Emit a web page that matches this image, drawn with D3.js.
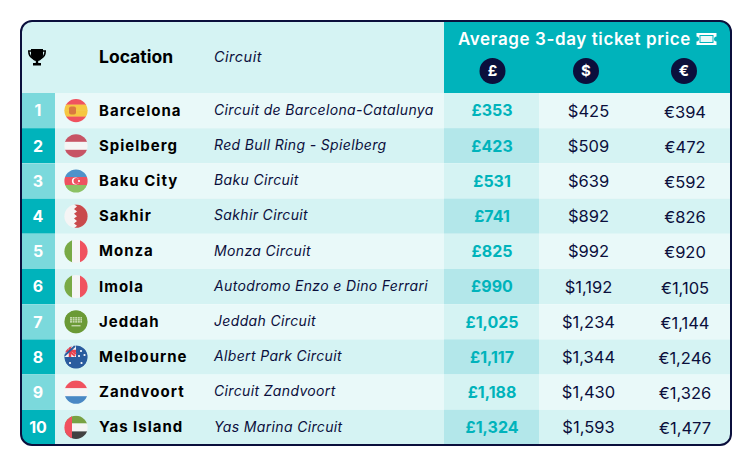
<!DOCTYPE html>
<html lang="en">
  <head>
    <meta charset="utf-8">
    <title>Average 3-day ticket price</title>
    <style type="text/css">
      html, body { margin: 0; padding: 0; background: #fff; }
      svg { display: block; }
      text { font-family: Inter, "Noto Sans", sans-serif; }
    </style>
  </head>
  <body>
    <script src="https://d3js.org/d3.v7.min.js"></script>
    <script type="text/javascript">
    // ===================================
    // DATA
    // ===================================
      var ranks = [1, 2, 3, 4, 5, 6, 7, 8, 9, 10];
      var locations = ["Barcelona", "Spielberg", "Baku City", "Sakhir", "Monza", "Imola", "Jeddah", "Melbourne", "Zandvoort", "Yas Island"];
      var circuits = [
        "Circuit de Barcelona-Catalunya",
        "Red Bull Ring - Spielberg",
        "Baku Circuit",
        "Sakhir Circuit",
        "Monza Circuit",
        "Autodromo Enzo e Dino Ferrari",
        "Jeddah Circuit",
        "Albert Park Circuit",
        "Circuit Zandvoort",
        "Yas Marina Circuit"
      ];
      var flags = ["spain", "austria", "azerbaijan", "bahrain", "italy", "italy", "saudi", "australia", "netherlands", "uae"];
      var pounds = [353, 423, 531, 741, 825, 990, 1025, 1117, 1188, 1324];
      var dollars = [425, 509, 639, 892, 992, 1192, 1234, 1344, 1430, 1593];
      var euros = [394, 472, 592, 826, 920, 1105, 1144, 1246, 1326, 1477];
      var currencies = ["£", "$", "€"];

    // ===================================
    // SETUP
    // ===================================
      var w = 750, h = 466;
      var navy = "#0b0f3c", teal = "#00b3bb", pale = "#d5f3f3", lighter = "#e9f9f9";
      var panelLeft = 21, panelRight = 731, panelTop = 21, panelBottom = 445, headBottom = 93;
      var rankRight = 55, poundLeft = 444, poundRight = 539;

      var svg = d3.select("body").append("svg")
        .attr("width", w)
        .attr("height", h)
        .attr("viewBox", "0 0 " + w + " " + h);

      var y = d3.scaleBand().domain(ranks).range([headBottom, panelBottom]);
      var priceX = d3.scalePoint().domain(currencies).range([492, 685]);
      var badgeX = d3.scaleOrdinal().domain(currencies).range([492.5, 586, 684]);
      var fmt = d3.format(",");

      var defs = svg.append("defs");
      defs.append("clipPath").attr("id", "panel")
        .append("rect")
        .attr("x", panelLeft).attr("y", panelTop)
        .attr("width", panelRight - panelLeft).attr("height", panelBottom - panelTop)
        .attr("rx", 11);
      defs.append("clipPath").attr("id", "disc")
        .append("circle").attr("r", 11.6);

      var panel = svg.append("g").attr("clip-path", "url(#panel)");

    // ===================================
    // BACKGROUNDS
    // ===================================
      panel.append("rect")
        .attr("x", panelLeft).attr("y", panelTop)
        .attr("width", panelRight - panelLeft).attr("height", headBottom - panelTop)
        .attr("fill", pale);
      panel.append("rect")
        .attr("x", poundLeft).attr("y", panelTop)
        .attr("width", panelRight - poundLeft).attr("height", headBottom - panelTop)
        .attr("fill", teal);

      var rows = panel.selectAll("g.row")
        .data(ranks)
        .enter()
        .append("g")
        .attr("class", "row")
        .attr("transform", function(d) { return "translate(0," + y(d) + ")"; });

      rows.append("rect")
        .attr("x", panelLeft).attr("width", panelRight - panelLeft).attr("height", y.bandwidth())
        .attr("fill", function(d, i) { return i % 2 ? pale : lighter; });
      rows.append("rect")
        .attr("x", panelLeft).attr("width", rankRight - panelLeft).attr("height", y.bandwidth())
        .attr("fill", function(d, i) { return i % 2 ? teal : "#7bd9dc"; });
      rows.append("rect")
        .attr("x", poundLeft).attr("width", poundRight - poundLeft).attr("height", y.bandwidth())
        .attr("fill", function(d, i) { return i % 2 ? "#b3e7ea" : pale; });

    // ===================================
    // ROW TEXT
    // ===================================
      var mid = y.bandwidth() / 2;

      rows.append("text")
        .attr("x", 38).attr("y", mid).attr("dy", "0.36em")
        .attr("text-anchor", "middle")
        .attr("font-size", 16).attr("font-weight", 700).attr("fill", "#fff")
        .text(function(d) { return d; });

      rows.append("text")
        .attr("x", 99).attr("y", mid - 0.5).attr("dy", "0.36em")
        .attr("font-size", 15).attr("font-weight", 700).attr("fill", "#000")
        .attr("letter-spacing", 1)
        .text(function(d, i) { return locations[i]; });

      rows.append("text")
        .attr("x", 214).attr("y", mid - 0.8).attr("dy", "0.36em")
        .attr("font-size", 14).attr("font-style", "italic").attr("fill", navy)
        .attr("letter-spacing", 0.35)
        .text(function(d, i) { return circuits[i]; });

      rows.append("text")
        .attr("x", priceX("£")).attr("y", mid).attr("dy", "0.36em")
        .attr("text-anchor", "middle")
        .attr("font-size", 16).attr("font-weight", 700).attr("fill", teal)
        .text(function(d, i) { return "£" + fmt(pounds[i]); });

      rows.append("text")
        .attr("x", priceX("$")).attr("y", mid).attr("dy", "0.36em")
        .attr("text-anchor", "middle")
        .attr("font-size", 16.5).attr("fill", navy)
        .text(function(d, i) { return "$" + fmt(dollars[i]); });

      rows.append("text")
        .attr("x", priceX("€")).attr("y", mid + 1).attr("dy", "0.36em")
        .attr("text-anchor", "middle")
        .attr("font-size", 16.5).attr("fill", navy)
        .text(function(d, i) { return "€" + fmt(euros[i]); });

    // ===================================
    // FLAGS
    // ===================================
      function stripes(g, cols, horizontal) {
        var s = d3.scaleBand().domain(d3.range(cols.length)).range([-12, 12]);
        cols.forEach(function(c, i) {
          g.append("rect")
            .attr("x", horizontal ? -12 : s(i))
            .attr("y", horizontal ? s(i) : -12)
            .attr("width", horizontal ? 24 : s.bandwidth() + 0.3)
            .attr("height", horizontal ? s.bandwidth() + 0.3 : 24)
            .attr("fill", c);
        });
      }

      var flagDraw = {
        spain: function(g) {
          stripes(g, ["#f0525f", "#f6c742", "#f6c742", "#f0525f"], true);
          g.append("rect").attr("x", -7).attr("y", -4).attr("width", 7).attr("height", 8).attr("rx", 2).attr("fill", "#d9793f");
        },
        austria: function(g) { stripes(g, ["#c75465", "#f5f5f5", "#c75465"], true); },
        azerbaijan: function(g) {
          stripes(g, ["#4f92c9", "#ee5260", "#8cc265"], true);
          g.append("circle").attr("r", 3.6).attr("cx", -0.5).attr("fill", "#fff");
          g.append("circle").attr("r", 2.9).attr("cx", 0.4).attr("fill", "#ee5260");
          g.append("circle").attr("r", 1.1).attr("cx", 3).attr("fill", "#fff");
        },
        bahrain: function(g) {
          g.append("rect").attr("x", -12).attr("y", -12).attr("width", 24).attr("height", 24).attr("fill", "#f5f5f5");
          g.append("path")
            .attr("d", "M12-12H-2L1-9.6-2-7.2 1-4.8-2-2.4 1 0-2 2.4 1 4.8-2 7.2 1 9.6-2 12H12Z")
            .attr("fill", "#c94a4c");
        },
        italy: function(g) { stripes(g, ["#79aa46", "#f5f5f5", "#f0525f"], false); },
        saudi: function(g) {
          g.append("circle").attr("r", 12).attr("fill", "#6b9a36");
          g.append("path").attr("d", "M-6-4H6M-6-2H6M-6 0H6").attr("stroke", "#e4edd4").attr("stroke-width", 1.3).attr("stroke-dasharray", "2 0.6");
          g.append("rect").attr("x", -4.5).attr("y", 3.5).attr("width", 9).attr("height", 1).attr("fill", "#e4edd4");
        },
        australia: function(g) {
          g.append("circle").attr("r", 12).attr("fill", "#2a5c9e");
          g.append("rect").attr("x", -12).attr("y", -12).attr("width", 12).attr("height", 12).attr("fill", "#f5f5f5");
          g.append("path").attr("d", "M-12-10-1-1M-10-12 0-3").attr("stroke", "#e8424f").attr("stroke-width", 2);
          g.append("path").attr("d", "M-6-12V0M-12-6H0").attr("stroke", "#e8424f").attr("stroke-width", 2.5);
          g.append("path").attr("d", "M-12-1-1-11").attr("stroke", "#2a5c9e").attr("stroke-width", 2);
          [[5, -6], [8.5, -2], [3, -1], [5.5, 6], [-6, 6]].forEach(function(p) {
            g.append("circle").attr("cx", p[0]).attr("cy", p[1]).attr("r", 1.1).attr("fill", "#fff");
          });
        },
        netherlands: function(g) { stripes(g, ["#f0525f", "#f5f5f5", "#4a88c4"], true); },
        uae: function(g) {
          stripes(g, ["#78a243", "#f5f5f5", "#424242"], true);
          g.append("rect").attr("x", -12).attr("y", -12).attr("width", 8).attr("height", 24).attr("fill", "#f0525f");
        }
      };

      rows.append("g")
        .attr("transform", "translate(76," + mid + ")")
        .attr("clip-path", "url(#disc)")
        .each(function(d, i) { flagDraw[flags[i]](d3.select(this)); });

    // ===================================
    // HEADER
    // ===================================
      panel.append("text")
        .attr("x", 99).attr("y", 63)
        .attr("font-size", 17.5).attr("font-weight", 700).attr("fill", "#000")
        .text("Location");
      panel.append("text")
        .attr("x", 214).attr("y", 62)
        .attr("font-size", 14.5).attr("font-style", "italic").attr("fill", navy)
        .attr("letter-spacing", 0.5)
        .text("Circuit");
      panel.append("text")
        .attr("x", 458).attr("y", 45)
        .attr("font-size", 17).attr("font-weight", 600).attr("fill", "#fff")
        .attr("letter-spacing", 0.6)
        .text("Average 3-day ticket price");

      // ticket icon
      var ticket = panel.append("g").attr("transform", "translate(706.5,39)");
      ticket.append("path")
        .attr("d", "M-10-6H10V-2.5A2.5 2.5 0 0 0 10 2.5V6H-10V2.5A2.5 2.5 0 0 0-10-2.5Z")
        .attr("fill", "#fff");
      ticket.append("rect")
        .attr("x", -7).attr("y", -4).attr("width", 14).attr("height", 8)
        .attr("fill", teal);
      ticket.append("rect")
        .attr("x", -6).attr("y", -3).attr("width", 12).attr("height", 6)
        .attr("fill", "#e9f9f9");

      // currency badges
      var badge = panel.selectAll("g.badge")
        .data(currencies)
        .enter()
        .append("g")
        .attr("class", "badge")
        .attr("transform", function(d) { return "translate(" + badgeX(d) + ",71)"; });
      badge.append("circle").attr("r", 13).attr("fill", navy);
      badge.append("text")
        .attr("text-anchor", "middle").attr("dy", "0.36em")
        .attr("font-size", 15).attr("font-weight", 700).attr("fill", "#fff")
        .text(function(d) { return d; });

      // trophy
      var trophy = panel.append("g").attr("transform", "translate(37,57)");
      trophy.append("path")
        .attr("d", "M-6-8H6V-2C6 2 3 3.5 1.2 4V6H4V8.5H-4V6H-1.2V4C-3 3.5-6 2-6-2Z")
        .attr("fill", "#000");
      trophy.append("path")
        .attr("d", "M-6-6H-8.2C-8.2-1.5-6.5 0.5-3.5 1.5M6-6H8.2C8.2-1.5 6.5 0.5 3.5 1.5")
        .attr("fill", "none").attr("stroke", "#000").attr("stroke-width", 1.6);

    // ===================================
    // OUTLINE
    // ===================================
      svg.append("rect")
        .attr("x", panelLeft).attr("y", panelTop)
        .attr("width", panelRight - panelLeft).attr("height", panelBottom - panelTop)
        .attr("rx", 11)
        .attr("fill", "none")
        .attr("stroke", navy)
        .attr("stroke-width", 2);
    </script>
  </body>
</html>
